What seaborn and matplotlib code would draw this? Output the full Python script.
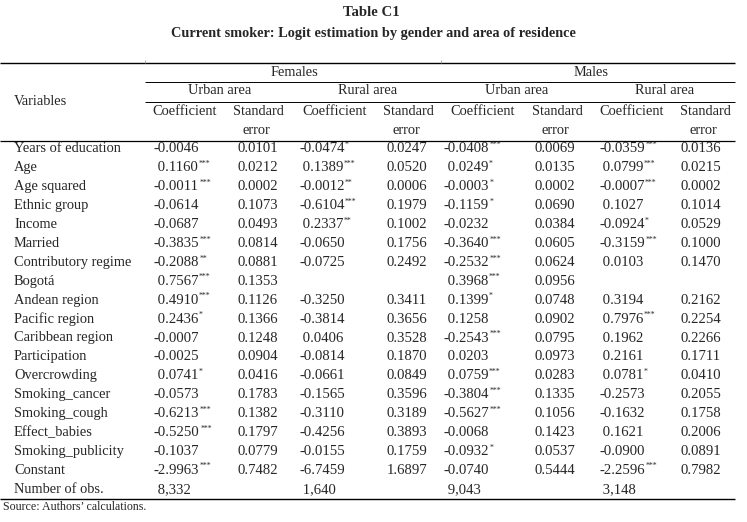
import matplotlib.pyplot as plt
import seaborn as sns

#===============================================================
#   TABLE C1 - CURRENT SMOKER: LOGIT BY GENDER AND AREA
#===============================================================

variables = [
    "Years of education", "Age", "Age squared", "Ethnic group", "Income",
    "Married", "Contributory regime", "Bogotá", "Andean region",
    "Pacific region", "Caribbean region", "Participation", "Overcrowding",
    "Smoking_cancer", "Smoking_cough", "Effect_babies", "Smoking_publicity",
    "Constant",
]

fem_urban_coef = [-0.0046, 0.1160, -0.0011, -0.0614, -0.0687, -0.3835, -0.2088, 0.7567, 0.4910,
                  0.2436, -0.0007, -0.0025, 0.0741, -0.0573, -0.6213, -0.5250, -0.1037, -2.9963]
fem_urban_stars = ["", "***", "***", "", "", "***", "**", "***", "***",
                   "*", "", "", "*", "", "***", "***", "", "***"]
fem_urban_se = [0.0101, 0.0212, 0.0002, 0.1073, 0.0493, 0.0814, 0.0881, 0.1353, 0.1126,
                0.1366, 0.1248, 0.0904, 0.0416, 0.1783, 0.1382, 0.1797, 0.0779, 0.7482]

fem_rural_coef = [-0.0474, 0.1389, -0.0012, -0.6104, 0.2337, -0.0650, -0.0725, None, -0.3250,
                  -0.3814, 0.0406, -0.0814, -0.0661, -0.1565, -0.3110, -0.4256, -0.0155, -6.7459]
fem_rural_stars = ["*", "***", "**", "***", "**", "", "", "", "",
                   "", "", "", "", "", "", "", "", ""]
fem_rural_se = [0.0247, 0.0520, 0.0006, 0.1979, 0.1002, 0.1756, 0.2492, None, 0.3411,
                0.3656, 0.3528, 0.1870, 0.0849, 0.3596, 0.3189, 0.3893, 0.1759, 1.6897]

male_urban_coef = [-0.0408, 0.0249, -0.0003, -0.1159, -0.0232, -0.3640, -0.2532, 0.3968, 0.1399,
                   0.1258, -0.2543, 0.0203, 0.0759, -0.3804, -0.5627, -0.0068, -0.0932, -0.0740]
male_urban_stars = ["***", "*", "*", "*", "", "***", "***", "***", "*",
                    "", "***", "", "***", "***", "***", "", "*", ""]
male_urban_se = [0.0069, 0.0135, 0.0002, 0.0690, 0.0384, 0.0605, 0.0624, 0.0956, 0.0748,
                 0.0902, 0.0795, 0.0973, 0.0283, 0.1335, 0.1056, 0.1423, 0.0537, 0.5444]

male_rural_coef = [-0.0359, 0.0799, -0.0007, 0.1027, -0.0924, -0.3159, 0.0103, None, 0.3194,
                   0.7976, 0.1962, 0.2161, 0.0781, -0.2573, -0.1632, 0.1621, -0.0900, -2.2596]
male_rural_stars = ["***", "***", "***", "", "*", "***", "", "", "",
                    "***", "", "", "*", "", "", "", "", "***"]
male_rural_se = [0.0136, 0.0215, 0.0002, 0.1014, 0.0529, 0.1000, 0.1470, None, 0.2162,
                 0.2254, 0.2266, 0.1711, 0.0410, 0.2055, 0.1758, 0.2006, 0.0891, 0.7982]

n_obs = [8332, 1640, 9043, 3148]

genders = ["Females", "Males"]
areas = ["Urban area", "Rural area"]

columns = [
    (fem_urban_coef, fem_urban_stars, fem_urban_se),
    (fem_rural_coef, fem_rural_stars, fem_rural_se),
    (male_urban_coef, male_urban_stars, male_urban_se),
    (male_rural_coef, male_rural_stars, male_rural_se),
]

# Style
sns.set_style("white")
plt.rcParams["font.family"] = ["Liberation Serif", "DejaVu Serif"]
FS = 10.4      # labels
FS_NUM = 10.6  # numbers

# Layout (pixel grid, y downwards)
W, H = 747, 522
coef_x = [154, 299, 444, 599]
se_x = [258, 407, 555, 701]
coef_head_x = [185, 335, 483, 632]
se_head_x = [258, 408, 557, 705]
area_x = [220, 368, 517, 665]
gender_x = [294, 591]
row_y0, row_dy = 149, 18.9

fig = plt.figure(figsize=(W / 100, H / 100), dpi=100)
ax = fig.add_axes([0, 0, 1, 1])
ax.set_xlim(0, W)
ax.set_ylim(H, 0)
ax.axis("off")

# Titles
ax.text(371, 13, "Table C1", ha="center", va="center", fontsize=10.6, weight="bold")
ax.text(373, 33, "Current smoker: Logit estimation by gender and area of residence",
        ha="center", va="center", fontsize=10.3, weight="bold")

# Rules
ax.hlines(63, 0, 735, color="black", lw=1.0)
ax.hlines([82, 101.5], 145, 735, color="black", lw=0.7)
ax.hlines(140.5, 0, 735, color="black", lw=0.9)
ax.hlines(499, 0, 735, color="black", lw=1.0)
# faint cell-border stubs above the top rule
ax.vlines([145, 441], 60, 63, color="0.6", lw=0.6)

# Header
ax.text(14, 101.5, "Variables", ha="left", va="center", fontsize=FS)
for gx, g in zip(gender_x, genders):
    ax.text(gx, 72, g, ha="center", va="center", fontsize=FS)
for i, axx in enumerate(area_x):
    ax.text(axx, 91, areas[i % 2], ha="center", va="center", fontsize=FS)
for cx, sx in zip(coef_head_x, se_head_x):
    ax.text(cx, 111.5, "Coefficient", ha="center", va="center", fontsize=FS)
    ax.text(sx, 111.5, "Standard", ha="center", va="center", fontsize=FS)
    ax.text(sx - 2, 131, "error", ha="center", va="center", fontsize=FS)

# Body
star_jobs = []
for r, name in enumerate(variables):
    y = row_y0 + r * row_dy
    ax.text(14, y, name, ha="left", va="center", fontsize=FS)
    for c, (coefs, stars, ses) in enumerate(columns):
        if coefs[r] is not None:
            s = f"{coefs[r]:.4f}" if coefs[r] < 0 else f" {coefs[r]:.4f}"
            t = ax.text(coef_x[c], y, s, ha="left", va="center", fontsize=FS_NUM)
            if stars[r]:
                star_jobs.append((t, stars[r], y))
        if ses[r] is not None:
            ax.text(se_x[c], y, f"{ses[r]:.4f}", ha="center", va="center", fontsize=FS_NUM)

y = row_y0 + len(variables) * row_dy
ax.text(14, y, "Number of obs.", ha="left", va="center", fontsize=FS)
for c, n in enumerate(n_obs):
    ax.text(coef_x[c], y, f" {n:,}", ha="left", va="center", fontsize=FS_NUM)

# Significance stars, placed right after each coefficient
fig.canvas.draw()
renderer = fig.canvas.get_renderer()
to_data = ax.transData.inverted()
for t, st, y in star_jobs:
    bb = t.get_window_extent(renderer)
    x_end = to_data.transform((bb.x1, bb.y1))[0]
    ax.text(x_end + 0.5, y - 8, st, ha="left", va="top", fontsize=5.6)

ax.text(3, 507, "Source: Authors\u2019 calculations.", ha="left", va="center", fontsize=8.6)

fig.savefig("out.png", dpi=100)
